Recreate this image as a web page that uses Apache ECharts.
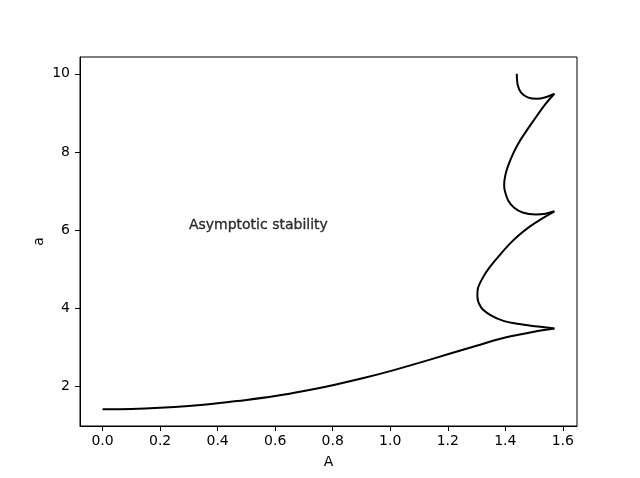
<!DOCTYPE html>
<html>
<head>
<meta charset="utf-8">
<script src="https://cdn.jsdelivr.net/npm/echarts@6/dist/echarts.min.js"></script>
<style>html,body{margin:0;padding:0;background:#fff;}#c{width:640px;height:478px;}</style>
</head>
<body>
<div id="c"></div>
<script>
// Branch 1: from A=0 up to the first cusp
var branch1A = [0.0, 0.1, 0.2, 0.3, 0.4, 0.5, 0.6, 0.7, 0.8, 0.9, 1.0, 1.1, 1.2, 1.3, 1.4, 1.5, 1.5708];
var branch1a = [1.414, 1.42, 1.45, 1.50, 1.57, 1.65, 1.75, 1.88, 2.03, 2.20, 2.39, 2.60, 2.82, 3.04, 3.25, 3.40, 3.48];
// Branch 2: first cusp -> second cusp
var branch2A = [1.5708, 1.512, 1.454, 1.396, 1.347, 1.316, 1.303, 1.305, 1.321, 1.344, 1.382, 1.412, 1.446, 1.487, 1.522, 1.5708];
var branch2a = [3.48, 3.53, 3.59, 3.67, 3.83, 4.02, 4.30, 4.51, 4.77, 5.03, 5.37, 5.62, 5.86, 6.10, 6.27, 6.48];
// Branch 3: second cusp -> third cusp
var branch3A = [1.5708, 1.54, 1.506, 1.46, 1.43, 1.41, 1.40, 1.396, 1.40, 1.41, 1.43, 1.448, 1.47, 1.50, 1.54, 1.5708];
var branch3a = [6.48, 6.42, 6.40, 6.45, 6.58, 6.76, 6.96, 7.15, 7.40, 7.65, 8.00, 8.25, 8.50, 8.82, 9.23, 9.49];
// Branch 4: third cusp -> end at a=10
var branch4A = [1.5708, 1.54, 1.51, 1.48, 1.455, 1.443, 1.44];
var branch4a = [9.49, 9.40, 9.36, 9.39, 9.52, 9.72, 10.0];

var xTicks = [0.0, 0.2, 0.4, 0.6, 0.8, 1.0, 1.2, 1.4, 1.6];
var yTicks = [2, 4, 6, 8, 10];
var annotation = { text: 'Asymptotic stability', A: 0.3, a: 6 };

function pairs(xs, ys) { return xs.map(function (x, i) { return [x, ys[i]]; }); }
var branches = [[branch1A, branch1a], [branch2A, branch2a], [branch3A, branch3a], [branch4A, branch4a]];

var font = 'DejaVu Sans';
var series = branches.map(function (b) {
  return {
    type: 'line', data: pairs(b[0], b[1]), showSymbol: false, symbol: 'none',
    smooth: 0.3, lineStyle: { color: '#000', width: 2 }, silent: true, animation: false
  };
});
series.push({
  type: 'scatter', data: [[annotation.A, annotation.a]], symbolSize: 0, silent: true, animation: false,
  label: { show: true, formatter: annotation.text, position: [0, 0], align: 'left', verticalAlign: 'middle',
    offset: [0, -5], color: '#000', fontFamily: font, fontSize: 14,
    textBorderColor: '#000', textBorderWidth: 0.35 }
});

var chart = echarts.init(document.getElementById('c'), null, { renderer: 'canvas' });
chart.setOption({
  backgroundColor: '#fff',
  animation: false,
  grid: { left: 80, right: 63, top: 57, bottom: 52, show: true, borderColor: '#000', borderWidth: 1, containLabel: false },
  xAxis: {
    type: 'value', min: -0.0785, max: 1.6493,
    name: 'A', nameLocation: 'middle', nameGap: 29, nameMoveOverlap: false,
    nameTextStyle: { color: '#000', fontFamily: font, fontSize: 14 },
    splitLine: { show: false },
    axisLine: { show: true, onZero: false, lineStyle: { color: '#000', width: 1 } },
    axisTick: { show: true, inside: false, length: 5, lineStyle: { color: '#000' }, customValues: xTicks },
    axisLabel: { color: '#000', fontFamily: font, fontSize: 14, margin: 8, customValues: xTicks,
      formatter: function (v) { return v.toFixed(1); } }
  },
  yAxis: {
    type: 'value', min: 0.985, max: 10.43,
    name: 'a', nameLocation: 'middle', nameGap: 34, nameRotate: 90, nameMoveOverlap: false,
    nameTextStyle: { color: '#000', fontFamily: font, fontSize: 14 },
    splitLine: { show: false },
    axisLine: { show: true, onZero: false, lineStyle: { color: '#000', width: 1 } },
    axisTick: { show: true, inside: false, length: 5, lineStyle: { color: '#000' }, customValues: yTicks },
    axisLabel: { color: '#000', fontFamily: font, fontSize: 14, margin: 10, customValues: yTicks,
      formatter: function (v) { return String(Math.round(v)); } }
  },
  series: series
});
</script>
</body>
</html>
